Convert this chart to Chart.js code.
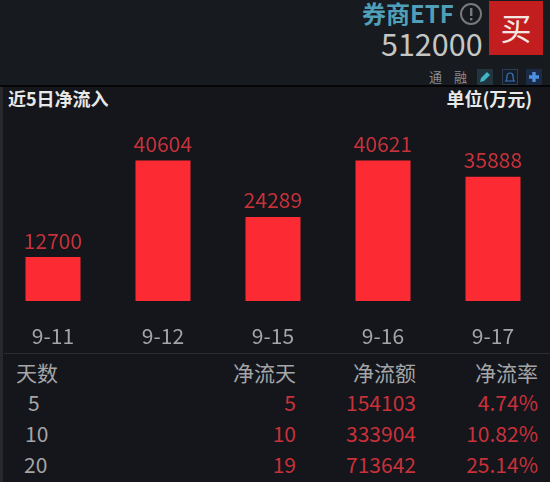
<!DOCTYPE html>
<html>
<head>
<meta charset="utf-8">
<script src="https://cdn.jsdelivr.net/npm/chart.js@4"></script>
<style>
html, body { margin: 0; padding: 0; background: #14161b; }
body { width: 550px; height: 482px; position: relative; overflow: hidden; font-family: "Noto Sans CJK SC", "Noto Sans", sans-serif; }
.txt { position: absolute; white-space: nowrap; line-height: 1; }
#top { position: absolute; left: 0; top: 0; width: 550px; height: 85px; background: #171a1f; border-bottom: 2px solid #050506; }
#side { position: absolute; left: 0; top: 87px; width: 3px; height: 395px; background: #26282c; }
#sep { position: absolute; left: 4px; top: 353px; width: 546px; height: 1px; background: #2b2d31; }
#buy { position: absolute; left: 489px; top: 1px; width: 54px; height: 54px; background: #c21d1f; color: #f4e6e2; font-size: 31px; line-height: 52px; text-align: center; }
#chartBox { position: absolute; left: -2px; top: 100px; width: 550px; height: 250px; }
.icon { position: absolute; top: 69px; width: 16px; height: 16px; box-sizing: border-box; }
</style>
</head>
<body>
<div id="top"></div>
<div id="side"></div>
<div class="txt" style="left:362px;top:1px;font-size:24px;font-weight:700;color:#4f9fb8;">券商ETF</div>
<svg style="position:absolute;left:459px;top:2px" width="24" height="24"><circle cx="12" cy="12" r="10" fill="none" stroke="#77797b" stroke-width="2"/><rect x="11" y="6" width="2.4" height="8" fill="#77797b"/><rect x="11" y="16" width="2.4" height="2.4" fill="#77797b"/></svg>
<div class="txt" style="left:381px;top:28px;font-size:30.5px;color:#c5c6c4;">512000</div>
<div id="buy">买</div>
<div class="txt" style="left:429px;top:70px;font-size:13px;color:#8b8d8f;">通</div>
<div class="txt" style="left:454px;top:70px;font-size:13px;color:#8b8d8f;">融</div>
<svg class="icon" style="left:477px" viewBox="0 0 16 16"><rect width="16" height="16" fill="#22343d"/><path d="M3 13l1-4 6-6 3 3-6 6z" fill="#3fb6c6"/></svg>
<svg class="icon" style="left:502px" viewBox="0 0 16 16"><rect x="0.5" y="0.5" width="15" height="15" fill="#141d2a" stroke="#2c3d55"/><path d="M4 12c1-1 1-3 1-5a3 3 0 0 1 6 0c0 2 0 4 1 5z" fill="none" stroke="#3f78c0" stroke-width="1.2"/></svg>
<svg class="icon" style="left:526px" viewBox="0 0 16 16"><rect width="16" height="16" fill="#1c2b45"/><path d="M3 8h10M8 3v10" stroke="#4d8fe0" stroke-width="3.4"/></svg>
<div class="txt" style="left:8px;top:89px;font-size:18px;font-weight:700;color:#e8e8e6;">近5日净流入</div>
<div class="txt" style="right:18px;top:89px;font-size:18px;font-weight:700;color:#e8e8e6;">单位(万元)</div>
<div id="chartBox"><canvas id="flowChart"></canvas></div>
<div id="sep"></div>
<div id="table"></div>
<script>
const dates = ['9-11', '9-12', '9-15', '9-16', '9-17'];
const netInflow = [12700, 40604, 24289, 40621, 35888];

const tableHeads = ['天数', '净流天', '净流额', '净流率'];
const periods = ['5', '10', '20'];
const flowDays = ['5', '10', '19'];
const flowAmounts = ['154103', '333904', '713642'];
const flowRates = ['4.74%', '10.82%', '25.14%'];

// 柱顶数值
const valueLabels = {
    id: 'valueLabels',
    afterDatasetsDraw(chart) {
        const ctx = chart.ctx;
        ctx.save();
        ctx.font = '21px "Noto Sans CJK SC", "Noto Sans", sans-serif';
        ctx.fillStyle = '#c8313a';
        ctx.textAlign = 'center';
        ctx.textBaseline = 'bottom';
        chart.getDatasetMeta(0).data.forEach((bar, i) => {
            ctx.fillText(netInflow[i], bar.x, bar.y - 6);
        });
        ctx.restore();
    }
};

new Chart(document.getElementById('flowChart').getContext('2d'), {
    type: 'bar',
    data: {
        labels: dates,
        datasets: [{
            data: netInflow,
            backgroundColor: '#fb2a33',
            categoryPercentage: 0.5,
            barPercentage: 1
        }]
    },
    options: {
        responsive: true,
        maintainAspectRatio: false,
        animation: false,
        layout: { padding: { top: 28 } },
        plugins: { legend: { display: false }, tooltip: { enabled: false } },
        scales: {
            x: {
                afterFit(scale) { scale.height = 49; },
                grid: { display: false, drawBorder: false },
                border: { display: false },
                ticks: {
                    color: '#a4a5a6',
                    padding: 14,
                    maxRotation: 0,
                    font: { size: 21, family: '"Noto Sans CJK SC", "Noto Sans", sans-serif' }
                }
            },
            y: { display: false, min: 0, max: 50000 }
        }
    },
    plugins: [valueLabels]
});

// 下方表格
const table = document.getElementById('table');
const headTop = 362;
const rowTops = [392, 423, 454];
function addCell(text, rightFromEdge, top, color) {
    const el = document.createElement('div');
    el.className = 'txt';
    el.textContent = text;
    el.style.right = rightFromEdge + 'px';
    el.style.top = top + 'px';
    el.style.fontSize = '21px';
    el.style.color = color;
    table.appendChild(el);
}
function addLeft(text, left, top) {
    const el = document.createElement('div');
    el.className = 'txt';
    el.textContent = text;
    el.style.left = left + 'px';
    el.style.top = top + 'px';
    el.style.fontSize = '21px';
    el.style.color = '#a4a5a6';
    table.appendChild(el);
}
addLeft(tableHeads[0], 16, headTop);
addCell(tableHeads[1], 254, headTop, '#a4a5a6');
addCell(tableHeads[2], 134, headTop, '#a4a5a6');
addCell(tableHeads[3], 12, headTop, '#a4a5a6');
periods.forEach((p, i) => {
    const top = rowTops[i];
    addLeft(p, [28, 25, 24][i], top);
    addCell(flowDays[i], 254, top, '#c8313a');
    addCell(flowAmounts[i], 134, top, '#c8313a');
    addCell(flowRates[i], 12, top, '#c8313a');
});
</script>
</body>
</html>
